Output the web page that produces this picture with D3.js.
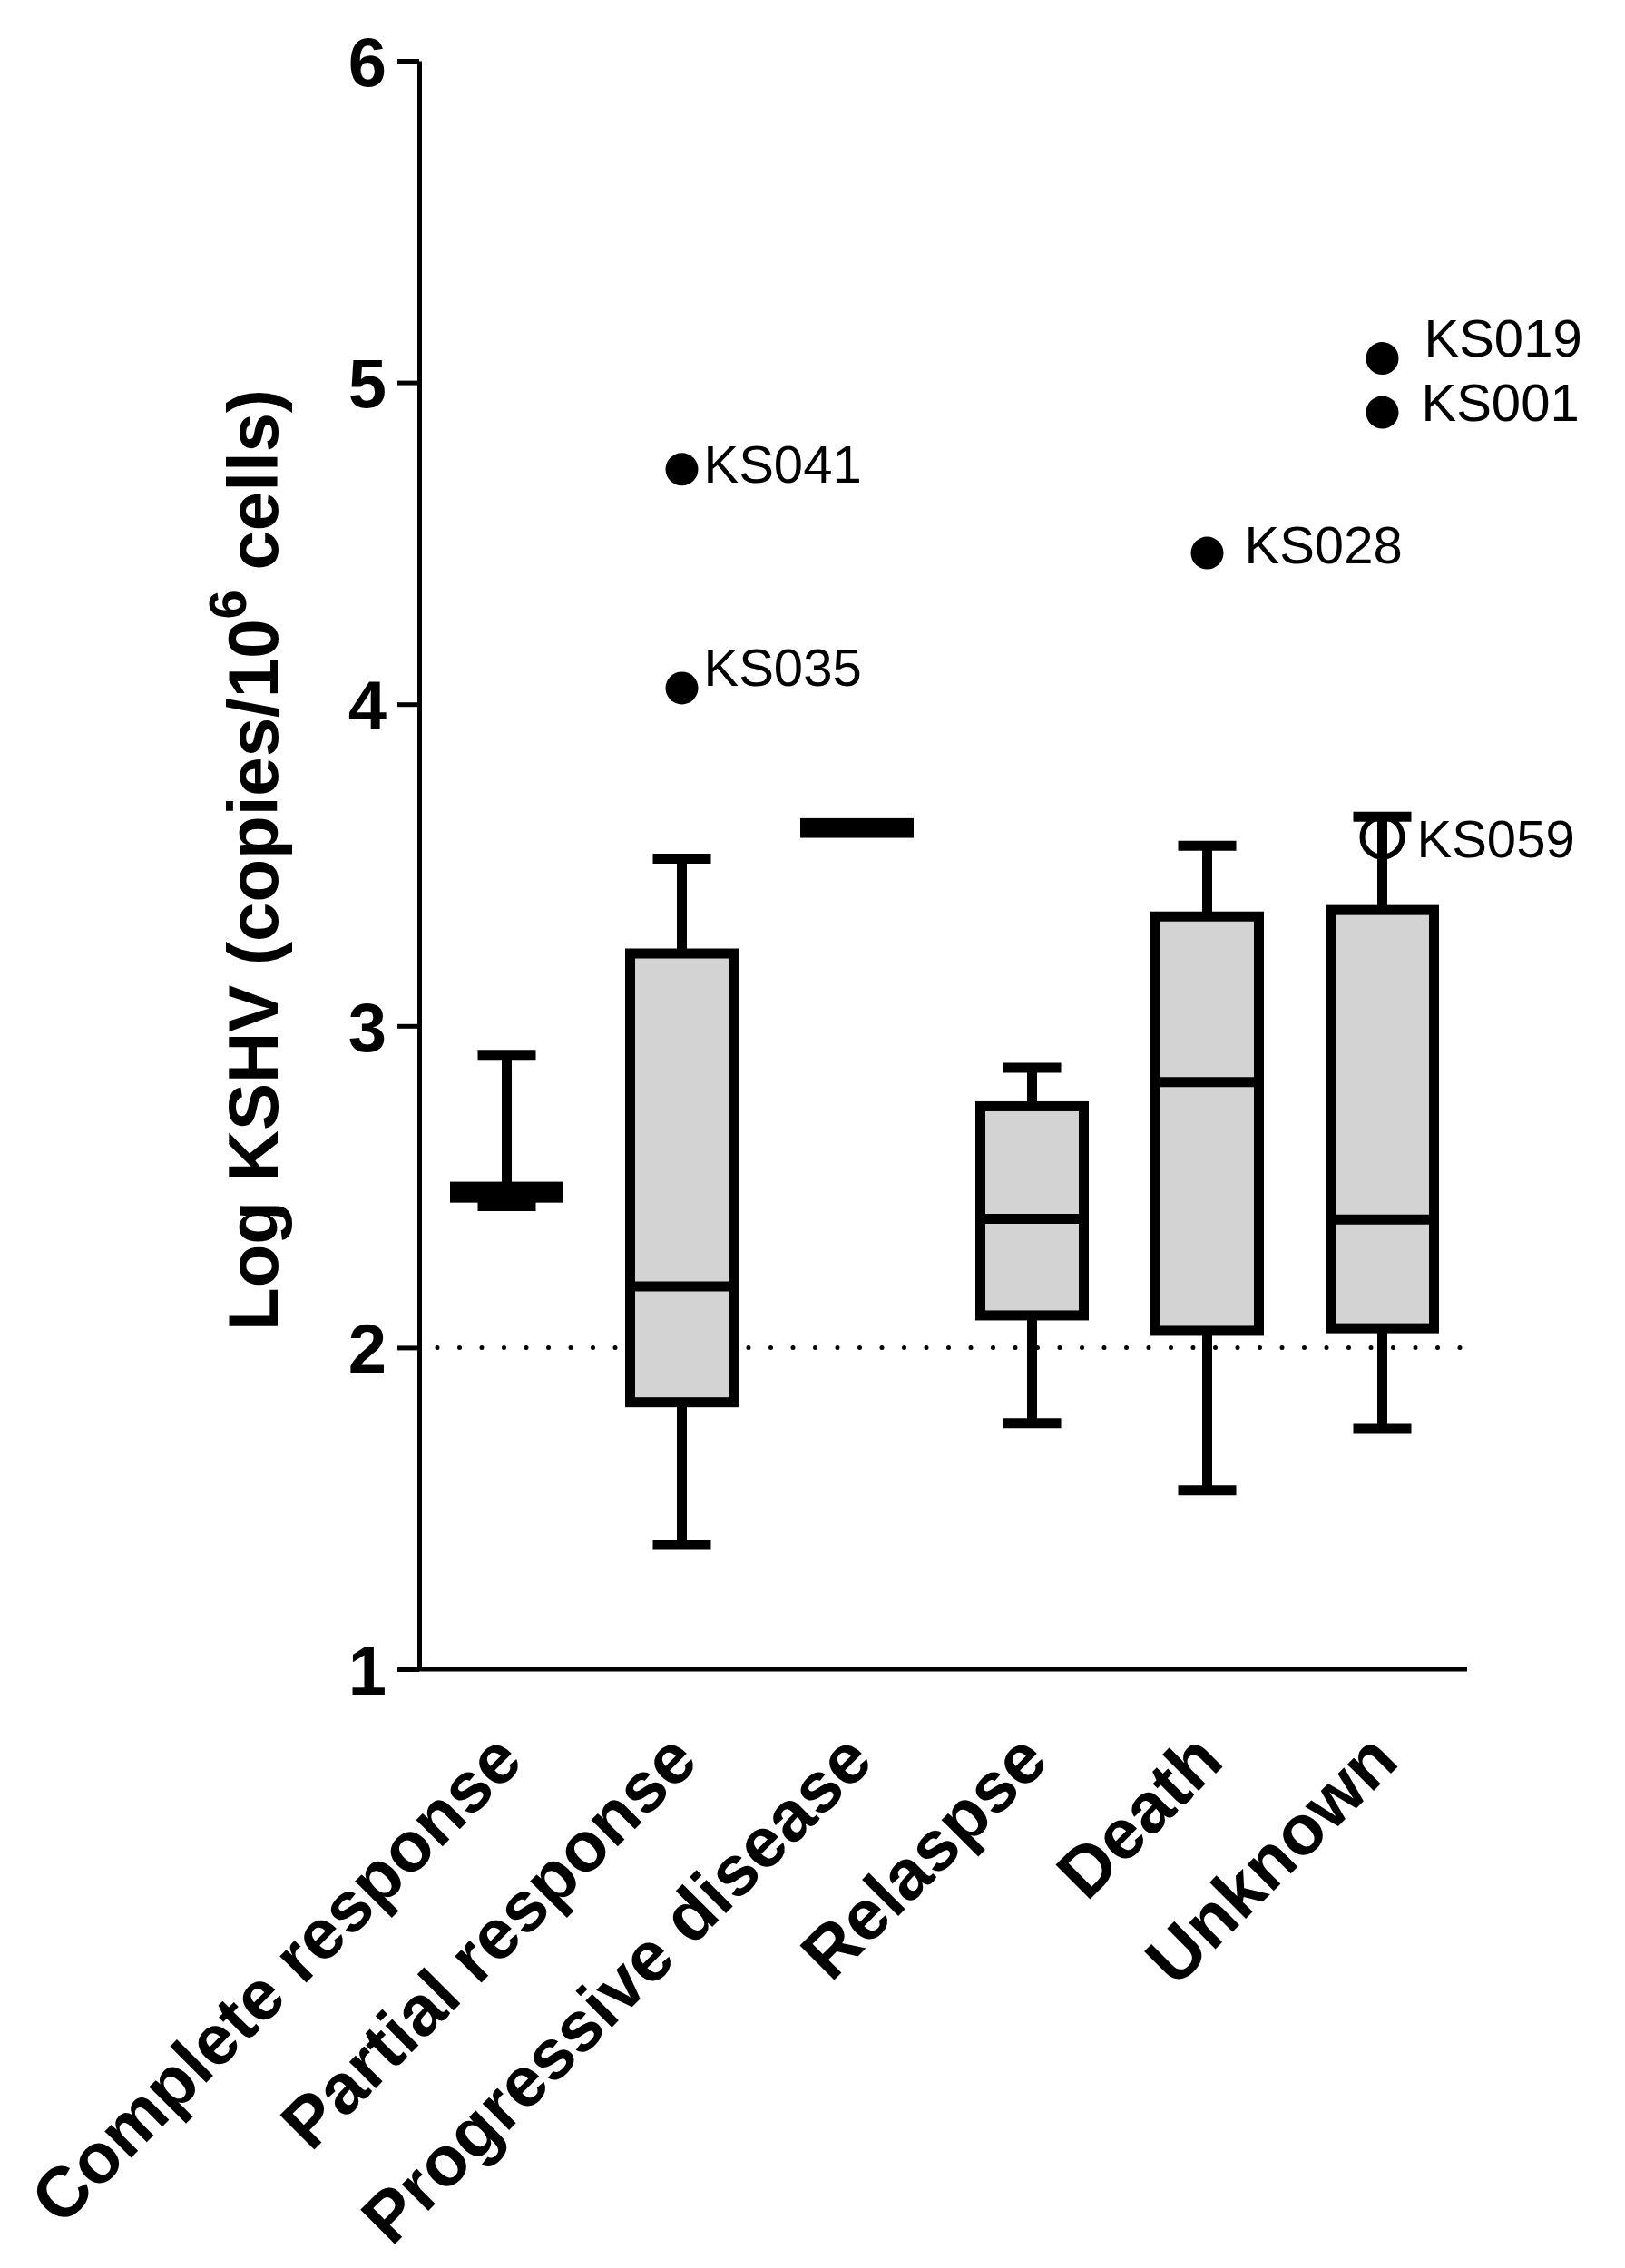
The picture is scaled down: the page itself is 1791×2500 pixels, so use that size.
<!DOCTYPE html>
<html>
<head>
<meta charset="utf-8">
<script src="https://cdn.jsdelivr.net/npm/d3@7"></script>
<style>
  body { margin: 0; background: #fff; }
  svg { display: block; font-family: "Liberation Sans", Arial, sans-serif; }
</style>
</head>
<body>
<svg id="chart"></svg>
<script>
// categories and box stats (log KSHV copies / 10^6 cells)
const categories = ['Complete response', 'Partial response', 'Progressive disease', 'Relaspse', 'Death', 'Unknown'];
const mins    = [2.44, 1.386, 3.60,  1.765, 1.556, 1.747];
const q1s     = [2.466, 1.83, 3.60,  2.10,  2.052, 2.06];
const medians = [2.48, 2.19,  3.615, 2.40,  2.825, 2.398];
const q3s     = [2.50, 3.225, 3.63,  2.75,  3.34,  3.36];
const maxs    = [2.91, 3.52,  3.63,  2.87,  3.56,  3.65];

// labelled outliers
const outlierGroup = ['Partial response', 'Partial response', 'Death', 'Unknown', 'Unknown', 'Unknown'];
const outlierValue = [4.73, 4.05, 4.47, 5.075, 4.907, 3.587];
const outlierName  = ['KS041', 'KS035', 'KS028', 'KS019', 'KS001', 'KS059'];
const outlierOpen  = [false, false, false, false, false, true];

const yTicks = [1, 2, 3, 4, 5, 6];
const threshold = 2;

// label nudges (layout only)
const labelDx = [24, 24, 41, 46, 43, 38];
const labelDy = [15, -2, 11, -2, 9, 22];

const W = 1791, H = 2500;
const svg = d3.select('#chart').attr('width', W).attr('height', H);

const x = d3.scalePoint().domain(categories).range([462, 1620]).padding(0.5);
const y = d3.scaleLinear().domain([1, 6]).range([1840, 67]);

const boxW = 114, capW = 64, lw = 11;

// dotted threshold line
svg.append('line')
  .attr('x1', 482).attr('x2', 1617)
  .attr('y1', y(threshold)).attr('y2', y(threshold))
  .attr('stroke', '#000').attr('stroke-width', 5)
  .attr('stroke-linecap', 'round')
  .attr('stroke-dasharray', '0,24.5');

const boxes = categories.map((c, i) => ({
  cat: c, min: mins[i], q1: q1s[i], med: medians[i], q3: q3s[i], max: maxs[i]
}));

const g = svg.append('g').selectAll('g').data(boxes).enter().append('g')
  .attr('transform', d => 'translate(' + x(d.cat) + ',0)');

// whiskers
g.append('line')
  .attr('x1', 0).attr('x2', 0)
  .attr('y1', d => y(d.min)).attr('y2', d => y(d.max))
  .attr('stroke', '#000').attr('stroke-width', lw);
g.filter(d => d.max > d.q3).append('line')
  .attr('x1', -capW / 2).attr('x2', capW / 2)
  .attr('y1', d => y(d.max)).attr('y2', d => y(d.max))
  .attr('stroke', '#000').attr('stroke-width', lw);
g.filter(d => d.min < d.q1).append('line')
  .attr('x1', -capW / 2).attr('x2', capW / 2)
  .attr('y1', d => y(d.min)).attr('y2', d => y(d.min))
  .attr('stroke', '#000').attr('stroke-width', lw);

// boxes
g.append('rect')
  .attr('x', -boxW / 2).attr('width', boxW)
  .attr('y', d => y(d.q3)).attr('height', d => y(d.q1) - y(d.q3))
  .attr('fill', '#d3d3d3').attr('stroke', '#000').attr('stroke-width', lw);
g.append('line')
  .attr('x1', -boxW / 2).attr('x2', boxW / 2)
  .attr('y1', d => y(d.med)).attr('y2', d => y(d.med))
  .attr('stroke', '#000').attr('stroke-width', lw);

// y axis
const yAxis = svg.append('g')
  .attr('transform', 'translate(462,0)')
  .call(d3.axisLeft(y).tickValues(yTicks).tickFormat(d3.format('d'))
    .tickSize(24).tickSizeOuter(0).tickPadding(12));
yAxis.select('.domain').attr('stroke-width', 5);
yAxis.selectAll('.tick line').attr('stroke-width', 5);
yAxis.selectAll('.tick text')
  .attr('font-family', '"Liberation Sans", Arial, sans-serif')
  .attr('font-size', 76).attr('font-weight', 'bold').attr('fill', '#000')
  .attr('dy', '0.36em');

// x axis
const xAxis = svg.append('g')
  .attr('transform', 'translate(0,1840)')
  .call(d3.axisBottom(x).tickSize(0).tickSizeOuter(0));
xAxis.select('.domain').attr('stroke-width', 5)
  .attr('d', 'M462,0H1617');
xAxis.selectAll('.tick text')
  .attr('font-family', '"Liberation Sans", Arial, sans-serif')
  .attr('font-size', 78).attr('font-weight', 'bold').attr('fill', '#000')
  .attr('x', 0).attr('y', 0).attr('dy', 0)
  .attr('text-anchor', 'end')
  .attr('transform', 'translate(20,104) rotate(-45)');

// y axis title
const yt = svg.append('text')
  .attr('transform', 'translate(306,948) rotate(-90)')
  .attr('text-anchor', 'middle')
  .attr('font-size', 78).attr('font-weight', 'bold');
yt.append('tspan').text('Log KSHV (copies/10');
yt.append('tspan').attr('font-size', 58).attr('dy', -35).text('6');
yt.append('tspan').attr('dy', 35).text(' cells)');

// outliers
const outliers = outlierName.map((n, i) => ({
  name: n, cat: outlierGroup[i], v: outlierValue[i], open: outlierOpen[i], dx: labelDx[i], dy: labelDy[i]
}));
svg.append('g').selectAll('circle').data(outliers).enter().append('circle')
  .attr('cx', d => x(d.cat)).attr('cy', d => y(d.v)).attr('r', d => d.open ? 22 : 18)
  .attr('fill', d => d.open ? 'none' : '#000')
  .attr('stroke', '#000').attr('stroke-width', d => d.open ? 6 : 0);
svg.append('g').selectAll('text').data(outliers).enter().append('text')
  .attr('x', d => x(d.cat) + d.dx).attr('y', d => y(d.v) + d.dy)
  .attr('font-size', 58)
  .text(d => d.name);
</script>
</body>
</html>
